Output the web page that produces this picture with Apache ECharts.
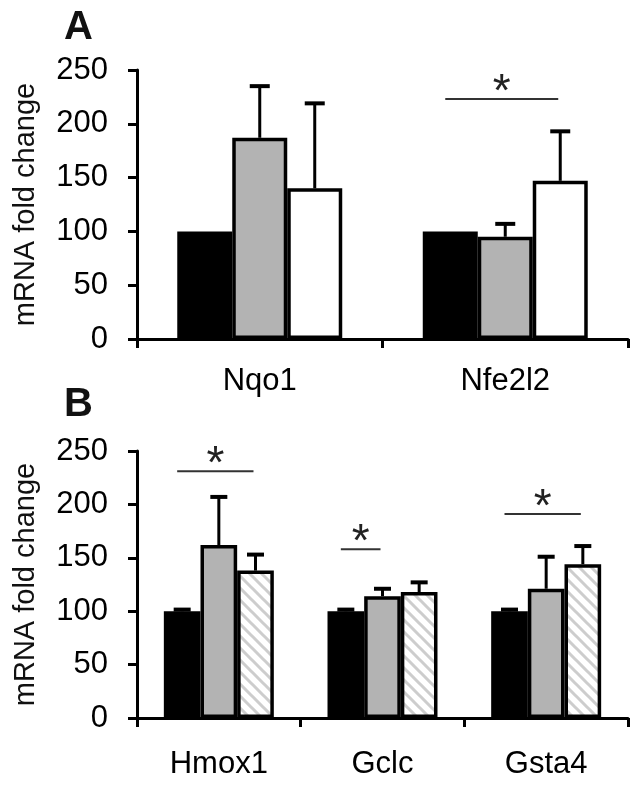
<!DOCTYPE html>
<html>
<head>
<meta charset="utf-8">
<script src="https://cdn.jsdelivr.net/npm/echarts@6/dist/echarts.min.js"></script>
<style>html,body{margin:0;padding:0;background:#fff;}#c{width:640px;height:786px;}</style>
</head>
<body>
<div id="c"></div>
<script>
// ---- Data ----
const yTicks = [0, 50, 100, 150, 200, 250];
const yAxisTitle = 'mRNA fold change';

const catsA = ['Nqo1', 'Nfe2l2'];
const a1 = [100, 100];
const a1Err = [0, 0];
const a2 = [187, 95];
const a2Err = [48, 12];
const a3 = [140, 147];
const a3Err = [79, 46];
// significance: [category index, height, from bar, to bar]
const sigA = [[1, 223, 0, 2]];

const catsB = ['Hmox1', 'Gclc', 'Gsta4'];
const b1 = [100, 100, 100];
const b1Err = [1.5, 1.5, 1.5];
const b2 = [162, 114, 121];
const b2Err = [45, 7, 30];
const b3 = [138, 118, 144];
const b3Err = [15, 9, 17];
const sigB = [[0, 231, 0, 2], [1, 158, 0, 1], [2, 191, 0, 2]];

// ---- Styles ----
const FONT = '"Liberation Sans", Arial, sans-serif';
const BAR_FRAC = 0.224;

function hatch() {
  const s = 12;
  const c = document.createElement('canvas');
  c.width = s; c.height = s;
  const g = c.getContext('2d');
  g.fillStyle = '#fff';
  g.fillRect(0, 0, s, s);
  g.strokeStyle = '#cdcdcd';
  g.lineWidth = 3;
  g.beginPath();
  g.moveTo(-2, -2); g.lineTo(s + 2, s + 2);
  g.moveTo(-2, s - 2); g.lineTo(2, s + 2);
  g.moveTo(s - 2, -2); g.lineTo(s + 2, 2);
  g.stroke();
  return c;
}
const hatchPattern = { image: hatch(), repeat: 'repeat' };

function errData(vals, errs) {
  const out = [];
  vals.forEach((v, k) => v.forEach((y, i) => out.push([i, y, errs[k][i], k])));
  return out;
}

function errItem(params, api) {
  const ci = api.value(0), v = api.value(1), e = api.value(2), k = api.value(3);
  if (!e) return null;
  const bw = api.size([1, 0])[0] * BAR_FRAC;
  const base = api.coord([ci, v]);
  const top = api.coord([ci, v + e]);
  const x = base[0] + (k - 1) * bw;
  const cap = bw > 45 ? 20 : 17;
  return {
    type: 'group',
    children: [
      { type: 'line', shape: { x1: x, y1: base[1], x2: x, y2: top[1] }, style: { stroke: '#000', lineWidth: 3 } },
      { type: 'line', shape: { x1: x - cap / 2, y1: top[1], x2: x + cap / 2, y2: top[1] }, style: { stroke: '#000', lineWidth: 4 } }
    ]
  };
}

function sigItem(params, api) {
  const ci = api.value(0), h = api.value(1), f = api.value(2), t = api.value(3);
  const bw = api.size([1, 0])[0] * BAR_FRAC;
  const p = api.coord([ci, h]);
  const x1 = p[0] + (f - 1) * bw - 5;
  const x2 = p[0] + (t - 1) * bw - 2;
  return {
    type: 'group',
    children: [
      { type: 'line', shape: { x1: x1, y1: p[1], x2: x2, y2: p[1] }, style: { stroke: '#333', lineWidth: 2 } },
      { type: 'text', style: { text: '*', x: (x1 + x2) / 2, y: p[1] - 6, align: 'center', verticalAlign: 'middle', font: '46px ' + FONT, fill: '#222' } }
    ]
  };
}

function barSeries(data, color, gi, name) {
  return {
    type: 'bar', name: name, data: data, xAxisIndex: gi, yAxisIndex: gi,
    barWidth: (BAR_FRAC * 100) + '%', barGap: '0%',
    itemStyle: { color: color, borderColor: '#000', borderWidth: 3.5 },
    silent: true
  };
}

function yAxis(gi, gap) {
  return {
    type: 'value', gridIndex: gi, min: yTicks[0], max: yTicks[yTicks.length - 1], interval: 50,
    name: yAxisTitle, nameLocation: 'middle', nameGap: gap, nameRotate: 90,
    nameTextStyle: { fontFamily: FONT, fontSize: 29, color: '#111' },
    axisLine: { show: true, lineStyle: { color: '#000', width: 3 } },
    axisTick: { show: true, length: 9, lineStyle: { color: '#000', width: 3 } },
    axisLabel: { fontFamily: FONT, fontSize: 31, color: '#000', margin: 29 },
    splitLine: { show: false }
  };
}
function xAxis(gi, cats, margin) {
  return {
    type: 'category', gridIndex: gi, data: cats,
    axisLine: { show: true, lineStyle: { color: '#000', width: 3 } },
    axisTick: { show: true, length: 9, alignWithLabel: false, lineStyle: { color: '#000', width: 3 } },
    axisLabel: { fontFamily: FONT, fontSize: 31, color: '#000', margin: margin },
    splitLine: { show: false }
  };
}

const chart = echarts.init(document.getElementById('c'), null, { renderer: 'canvas' });
chart.setOption({
  animation: false,
  backgroundColor: '#fff',
  grid: [
    { left: 137, right: 12, top: 70, height: 269 },
    { left: 137, right: 12, top: 451, height: 267 }
  ],
  xAxis: [xAxis(0, catsA, 27), xAxis(1, catsB, 31)],
  yAxis: [yAxis(0, 97), yAxis(1, 97)],
  graphic: [
    { type: 'text', left: 64, top: 8, style: { text: 'A', font: 'bold 40px ' + FONT, fill: '#111' } },
    { type: 'text', left: 64, top: 385, style: { text: 'B', font: 'bold 40px ' + FONT, fill: '#111' } }
  ],
  series: [
    barSeries(a1, '#000', 0, 's1'),
    barSeries(a2, '#b3b3b3', 0, 's2'),
    barSeries(a3, '#fff', 0, 's3'),
    { type: 'custom', xAxisIndex: 0, yAxisIndex: 0, renderItem: errItem, data: errData([a1, a2, a3], [a1Err, a2Err, a3Err]), z: 5, silent: true },
    { type: 'custom', xAxisIndex: 0, yAxisIndex: 0, renderItem: sigItem, data: sigA, z: 5, silent: true },
    barSeries(b1, '#000', 1, 's1'),
    barSeries(b2, '#b3b3b3', 1, 's2'),
    barSeries(b3, hatchPattern, 1, 's3'),
    { type: 'custom', xAxisIndex: 1, yAxisIndex: 1, renderItem: errItem, data: errData([b1, b2, b3], [b1Err, b2Err, b3Err]), z: 5, silent: true },
    { type: 'custom', xAxisIndex: 1, yAxisIndex: 1, renderItem: sigItem, data: sigB, z: 5, silent: true }
  ]
});
</script>
</body>
</html>
